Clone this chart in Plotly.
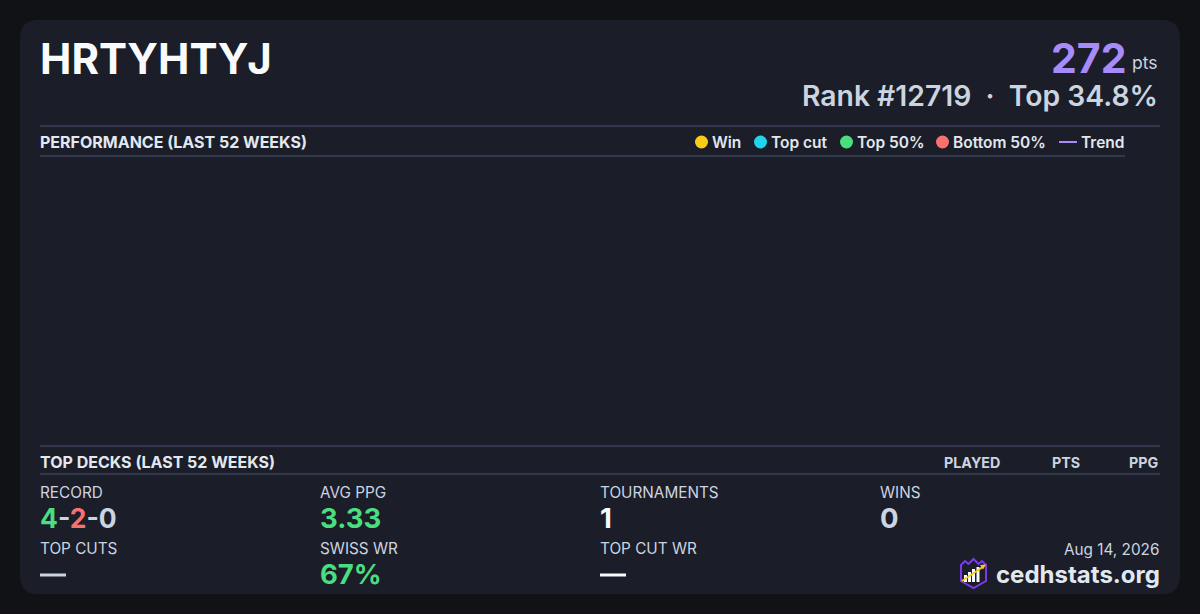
import plotly.graph_objects as go

# player card data
player_name = "HRTYHTYJ"
points = 272
rank = 12719
top_pct = 34.8
record = [4, 2, 0]  # wins, losses, draws
stat_labels = ["RECORD", "AVG PPG", "TOURNAMENTS", "WINS", "TOP CUTS", "SWISS WR", "TOP CUT WR"]
stat_values = [None, "3.33", "1", "0", "—", "67%", "—"]
legend_names = ["Win", "Top cut", "Top 50%", "Bottom 50%", "Trend"]
legend_colors = ["#facc15", "#22d3ee", "#4ade80", "#f87171", "#a78bfa"]
deck_columns = ["PLAYED", "PTS", "PPG"]
updated = "Aug 14, 2026"
site = "cedhstats.org"

W, H = 1200, 614
BG = "#111216"
CARD = "#1b1d28"
LINE = "#4a5570"
WHITE = "#f8fafc"
LIGHT = "#e2e8f0"
MUTED = "#cbd5e1"
GREEN = "#4ade80"
RED = "#f87171"
PURPLE = "#a78bfa"
FONT = "Inter"

fig = go.Figure()

# empty performance chart area (no games plotted)
fig.add_trace(go.Scatter(x=[], y=[], mode="markers", xaxis="x2", yaxis="y2", showlegend=False))


def rounded_rect(x0, y0, x1, y1, r):
    return (f"M {x0+r},{y0} L {x1-r},{y0} Q {x1},{y0} {x1},{y0+r} "
            f"L {x1},{y1-r} Q {x1},{y1} {x1-r},{y1} L {x0+r},{y1} "
            f"Q {x0},{y1} {x0},{y1-r} L {x0},{y0+r} Q {x0},{y0} {x0+r},{y0} Z")


shapes = [dict(type="path", path=rounded_rect(20, 20, 1180, 594, 18),
               fillcolor=CARD, line=dict(width=0), layer="below")]
# section rules
for y, x1 in [(126, 1160), (156, 1125), (446, 1160), (474, 1160)]:
    shapes.append(dict(type="line", x0=40, x1=x1, y0=y, y1=y, line=dict(color=LINE, width=1)))

ann = []


def text(x, y, s, size, color, weight=400, anchor="left"):
    ann.append(dict(x=x, y=y, text=s, showarrow=False, xanchor=anchor, yanchor="middle",
                    font=dict(family=FONT, size=size, color=color, weight=weight)))


# header
text(38, 58, player_name, 42, WHITE, 700)
text(1129, 58, str(points), 41, PURPLE, 700, "right")
text(1160, 62, "pts", 17.5, MUTED, 400, "right")
text(1160, 96, f"Rank #{rank}  ·  Top {top_pct}%", 28.3, MUTED, 600, "right")

# performance header + legend
text(38, 142, "PERFORMANCE (LAST 52 WEEKS)", 16, LIGHT, 700)
legend_x = [712, 771, 857, 953, 1081]
for name, color, lx in zip(legend_names, legend_colors, legend_x):
    if name == "Trend":
        shapes.append(dict(type="line", x0=lx - 22, x1=lx - 4, y0=142, y1=142,
                           line=dict(color=color, width=2)))
    else:
        shapes.append(dict(type="circle", x0=lx - 17, x1=lx - 4, y0=135.5, y1=148.5,
                           fillcolor=color, line=dict(width=0)))
    text(lx - 2, 142, name, 15.5, LIGHT, 600)

# top decks header
text(38, 462, "TOP DECKS (LAST 52 WEEKS)", 16, LIGHT, 700)
for col, cx in zip(deck_columns, [972, 1066, 1161]):
    text(cx, 462, col, 14.3, MUTED, 700, "right" if col == "PPG" else "center")

# stats grid
record_html = (f"<span style='color:{GREEN}'>{record[0]}</span>"
               f"<span style='color:{MUTED}'>-</span>"
               f"<span style='color:{RED}'>{record[1]}</span>"
               f"<span style='color:{MUTED}'>-{record[2]}</span>")
value_colors = [None, GREEN, WHITE, MUTED, MUTED, GREEN, WHITE]
cols = [40, 320, 600, 880, 40, 320, 600]
rows = [0, 0, 0, 0, 1, 1, 1]
for lab, val, vc, cx, r in zip(stat_labels, stat_values, value_colors, cols, rows):
    ly = 492 + r * 56
    text(cx - 2, ly, lab, 15.3, MUTED, 400)
    if val is None:
        text(cx - 2, ly + 26, record_html, 26.5, MUTED, 700)
    elif val == "—":
        shapes.append(dict(type="line", x0=cx, x1=cx + 26, y0=ly + 27, y1=ly + 27,
                           line=dict(color=vc, width=3)))
    else:
        text(cx - 2, ly + 26, val, 27.5, vc, 700)

# footer
text(1161, 549, updated, 15.3, MUTED, 400, "right")
text(1162, 574, site, 24, LIGHT, 700, "right")

# logo: shield with crown, bars and arrow
shapes.append(dict(type="path",
                   path="M 961,565 L 965,561 L 968.5,564 L 973.5,559 L 978.5,564 L 982,561 L 986,565 "
                        "L 986,581 L 973.5,588 L 961,581 Z",
                   fillcolor="rgba(0,0,0,0)", line=dict(color="#7c3aed", width=2)))
for bx, bt in [(964, 575), (968, 572), (972, 569), (976.5, 567)]:
    shapes.append(dict(type="rect", x0=bx, x1=bx + 3, y0=bt, y1=582,
                       fillcolor=WHITE, line=dict(width=0)))
shapes.append(dict(type="line", x0=962, y0=581, x1=983.5, y1=566.5, line=dict(color="#facc15", width=1.8)))
shapes.append(dict(type="path", path="M 986,564.5 L 980,565 L 983,569.5 Z",
                   fillcolor="#facc15", line=dict(width=0)))

for s in shapes:
    s.setdefault("xref", "x")
    s.setdefault("yref", "y")
for a in ann:
    a["xref"] = "x"
    a["yref"] = "y"

hidden = dict(visible=False, showgrid=False, zeroline=False, fixedrange=True)
fig.update_layout(
    width=W, height=H,
    margin=dict(l=0, r=0, t=0, b=0),
    paper_bgcolor=BG, plot_bgcolor="rgba(0,0,0,0)",
    xaxis=dict(range=[0, W], domain=[0, 1], **hidden),
    yaxis=dict(range=[H, 0], domain=[0, 1], **hidden),
    xaxis2=dict(domain=[40 / W, 1160 / W], anchor="y2", **hidden),
    yaxis2=dict(domain=[1 - 446 / H, 1 - 156 / H], anchor="x2", **hidden),
    shapes=shapes, annotations=ann, showlegend=False,
)

fig.write_html("out.html", config={"displayModeBar": False},
               post_script="document.body.style.margin='0';document.body.style.background='#111216';")
